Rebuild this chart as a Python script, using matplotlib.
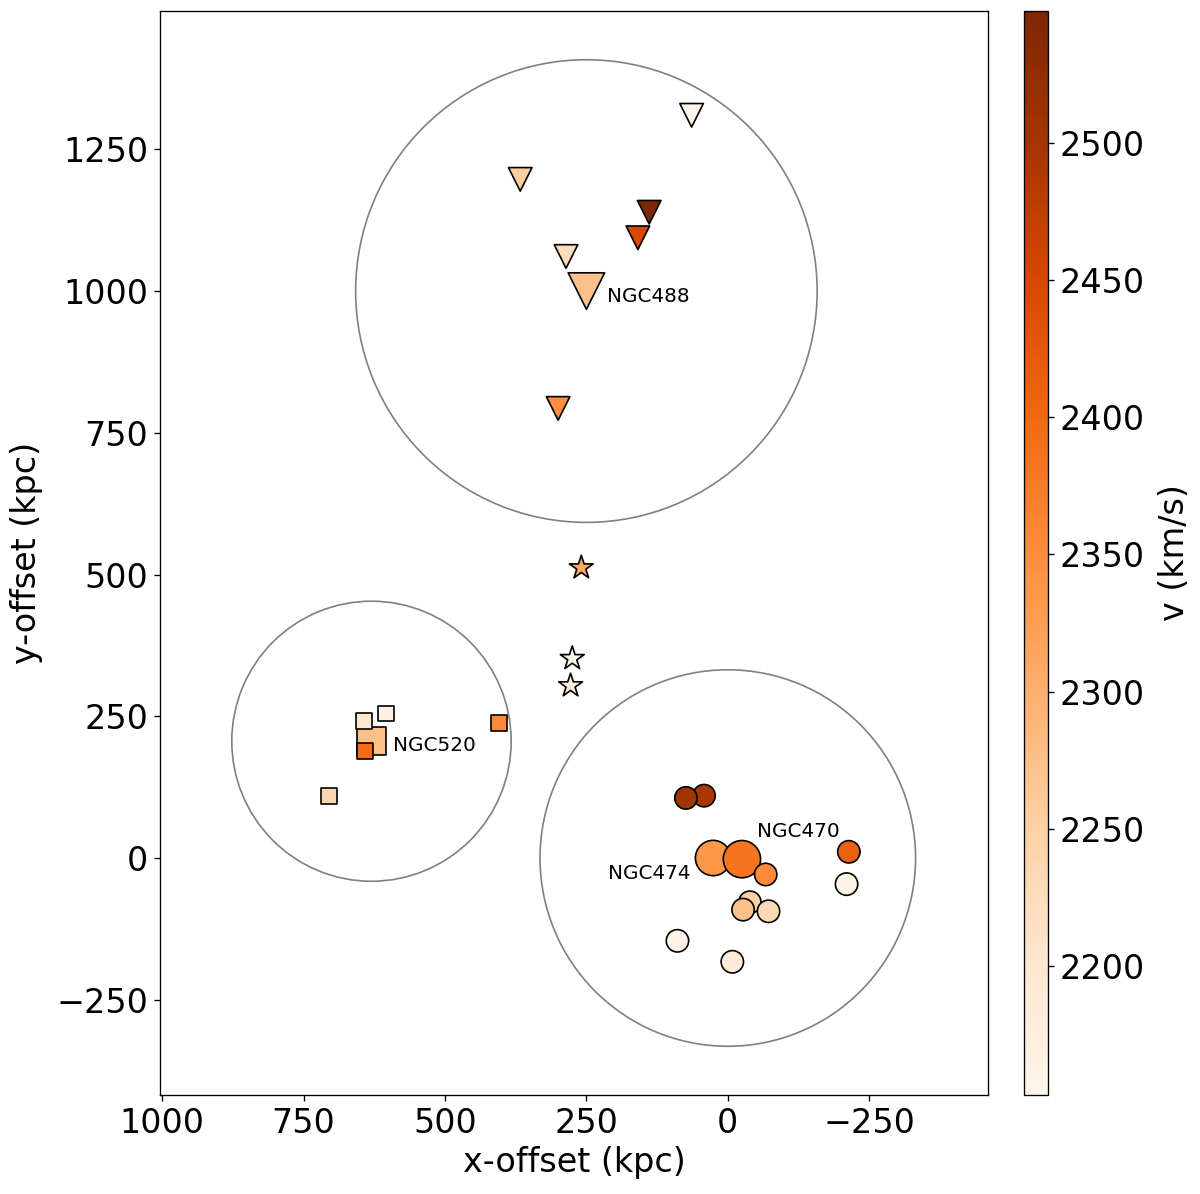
import numpy as np
import matplotlib
matplotlib.use("Agg")
import matplotlib.pyplot as plt
from matplotlib.patches import Circle
from matplotlib.colors import Normalize

# group centres (kpc) and radii of the grey rings
centre_x = [250, 630, 0]
centre_y = [1000, 206, 0]
centre_r = [408, 247, 332]

# NGC488 group (triangles); first entry is NGC488 itself
tri_x = [250, 64, 367, 139, 159, 286, 300]
tri_y = [1000, 1310, 1197, 1139, 1094, 1061, 793]
tri_v = [2272, 2158, 2252, 2548, 2449, 2224, 2350]
tri_s = [480, 200, 200, 200, 200, 200, 200]

# field galaxies between the groups (stars)
star_x = [259, 275, 278]
star_y = [512, 352, 304]
star_v = [2311, 2158, 2180]

# NGC520 group (squares); first entry is NGC520
sq_x = [630, 604, 643, 641, 404, 705]
sq_y = [206, 255, 241, 189, 238, 110]
sq_v = [2276, 2166, 2200, 2395, 2355, 2240]
sq_s = [290, 90, 90, 90, 90, 90]

# NGC470/474 group (circles)
circ_x = [26, -25, 42, 74, -67, -214, -210, -39, -27, -72, 89, -8]
circ_y = [0, -2, 110, 106, -29, 11, -46, -78, -91, -94, -146, -183]
circ_v = [2335, 2385, 2495, 2505, 2355, 2412, 2162, 2250, 2272, 2232, 2163, 2185]
circ_s = [450, 500, 180, 180, 180, 180, 180, 180, 180, 180, 180, 180]

labels = ["NGC488", "NGC520", "NGC474", "NGC470"]
label_x = [213, 592, 66, -51]
label_y = [991, 198, -28, 46]
label_ha = ["left", "left", "right", "left"]

vmin, vmax = 2153, 2548

fig = plt.figure(figsize=(10, 9.95), dpi=120)
ax = fig.add_axes([0.1333, 0.0829, 0.69, 0.9079])
cax = fig.add_axes([0.8533, 0.0829, 0.02, 0.9079])

for cx, cy, r in zip(centre_x, centre_y, centre_r):
    ax.add_patch(Circle((cx, cy), r, fill=False, edgecolor="grey", lw=1, zorder=1))

norm = Normalize(vmin=vmin, vmax=vmax)
kw = dict(cmap="Oranges", norm=norm, edgecolors="black", linewidths=1, zorder=3)

ax.scatter(tri_x, tri_y, c=tri_v, s=tri_s, marker="v", **kw)
ax.scatter(star_x, star_y, c=star_v, s=225, marker="*", **kw)
ax.scatter(sq_x, sq_y, c=sq_v, s=sq_s, marker="s", **kw)
sc = ax.scatter(circ_x, circ_y, c=circ_v, s=circ_s, marker="o", **kw)

for t, x, y, ha in zip(labels, label_x, label_y, label_ha):
    ax.text(x, y, t, fontsize=12, ha=ha, va="center", zorder=4)

ax.set_xlim(1004, -460)
ax.set_ylim(-418, 1494)
ax.set_xticks([1000, 750, 500, 250, 0, -250])
ax.set_yticks([-250, 0, 250, 500, 750, 1000, 1250])
ax.tick_params(labelsize=20)
ax.set_xlabel("x-offset (kpc)", fontsize=20)
ax.set_ylabel("y-offset (kpc)", fontsize=20, labelpad=8)

cb = fig.colorbar(sc, cax=cax)
cb.ax.tick_params(labelsize=20)
cb.set_label("v (km/s)", fontsize=20, labelpad=8)

fig.savefig("out.png", dpi=120)
